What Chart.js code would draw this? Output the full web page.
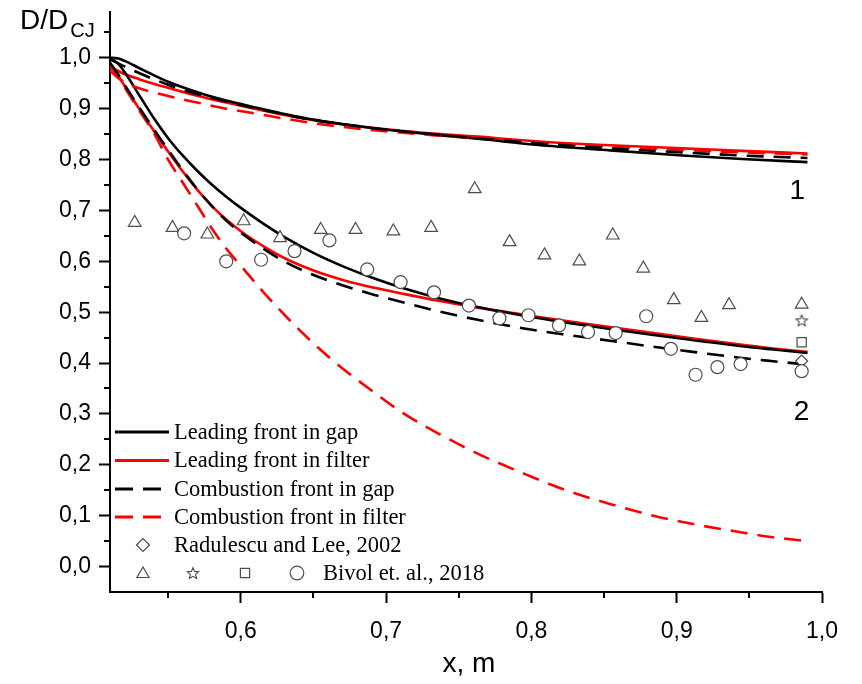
<!DOCTYPE html>
<html>
<head>
<meta charset="utf-8">
<script src="https://cdn.jsdelivr.net/npm/chart.js"></script>
<style>
  html, body { margin: 0; padding: 0; background: #fff; }
  canvas { display: block; }
</style>
</head>
<body>
<canvas id="chart" width="862" height="684"></canvas>
<script>
// group 1 curves (upper set)
const xUpper = [0.51, 0.515, 0.52, 0.53, 0.54, 0.55, 0.56, 0.575, 0.59, 0.611, 0.631, 0.651, 0.677, 0.702, 0.732, 0.763, 0.803, 0.854, 0.904, 0.945, 0.99];
const leadGap1 = [1.0, 0.999, 0.994, 0.98, 0.966, 0.953, 0.942, 0.928, 0.916, 0.902, 0.889, 0.878, 0.867, 0.858, 0.849, 0.841, 0.829, 0.818, 0.808, 0.801, 0.795];
const leadFilter1 = [0.982, 0.975, 0.968, 0.958, 0.949, 0.941, 0.933, 0.922, 0.912, 0.899, 0.887, 0.877, 0.867, 0.859, 0.851, 0.845, 0.836, 0.828, 0.822, 0.817, 0.812];
const combGap1 = [0.997, 0.99, 0.983, 0.97, 0.958, 0.947, 0.937, 0.925, 0.914, 0.9, 0.888, 0.877, 0.867, 0.858, 0.85, 0.842, 0.832, 0.822, 0.814, 0.808, 0.803];
const combFilter1 = [0.975, 0.962, 0.952, 0.94, 0.932, 0.925, 0.918, 0.909, 0.9, 0.89, 0.88, 0.871, 0.862, 0.855, 0.848, 0.842, 0.834, 0.826, 0.819, 0.814, 0.81];

// group 2 curves (lower set)
const xLower = [0.51, 0.515, 0.52, 0.53, 0.54, 0.55, 0.56, 0.57, 0.58, 0.59, 0.601, 0.616, 0.631, 0.651, 0.672, 0.692, 0.712, 0.737, 0.763, 0.793, 0.823, 0.854, 0.884, 0.914, 0.945, 0.965, 0.99];
const leadGap2 = [0.998, 0.99, 0.972, 0.927, 0.882, 0.842, 0.808, 0.778, 0.751, 0.727, 0.703, 0.673, 0.646, 0.615, 0.588, 0.566, 0.547, 0.527, 0.51, 0.494, 0.48, 0.467, 0.455, 0.444, 0.433, 0.427, 0.42];
const leadFilter2 = [0.99, 0.968, 0.945, 0.9, 0.857, 0.816, 0.777, 0.741, 0.709, 0.682, 0.657, 0.629, 0.605, 0.581, 0.562, 0.548, 0.536, 0.522, 0.509, 0.496, 0.483, 0.471, 0.459, 0.447, 0.436, 0.429, 0.422];
const combGap2 = [0.99, 0.97, 0.947, 0.903, 0.86, 0.819, 0.779, 0.742, 0.709, 0.68, 0.654, 0.624, 0.598, 0.572, 0.551, 0.534, 0.519, 0.501, 0.485, 0.469, 0.456, 0.444, 0.432, 0.421, 0.41, 0.404, 0.397];
const combFilter2 = [0.985, 0.965, 0.942, 0.897, 0.853, 0.8, 0.755, 0.71, 0.665, 0.625, 0.588, 0.538, 0.492, 0.436, 0.385, 0.342, 0.301, 0.26, 0.222, 0.185, 0.151, 0.123, 0.1, 0.082, 0.067, 0.058, 0.05];

// experiments
const triX = [0.527, 0.553, 0.577, 0.602, 0.627, 0.655, 0.679, 0.705, 0.731, 0.761, 0.785, 0.809, 0.833, 0.856, 0.877, 0.898, 0.917, 0.936, 0.986];
const triY = [0.676, 0.666, 0.653, 0.679, 0.646, 0.662, 0.662, 0.659, 0.666, 0.742, 0.638, 0.612, 0.6, 0.651, 0.586, 0.524, 0.489, 0.514, 0.515];
const circX = [0.561, 0.59, 0.614, 0.637, 0.661, 0.687, 0.71, 0.733, 0.757, 0.778, 0.798, 0.819, 0.839, 0.858, 0.879, 0.896, 0.913, 0.928, 0.944, 0.986];
const circY = [0.655, 0.6, 0.603, 0.62, 0.641, 0.584, 0.559, 0.539, 0.513, 0.488, 0.494, 0.474, 0.461, 0.459, 0.492, 0.428, 0.377, 0.392, 0.398, 0.384];
const starX = [0.986], starY = [0.484];
const squareX = [0.986], squareY = [0.441];
const radX = [0.986], radY = [0.404];

const xTicks = [0.6, 0.7, 0.8, 0.9, 1.0];
const yTicks = [0.0, 0.1, 0.2, 0.3, 0.4, 0.5, 0.6, 0.7, 0.8, 0.9, 1.0];
const xMinor = [0.55, 0.65, 0.75, 0.85, 0.95];
const yMinor = [0.05, 0.15, 0.25, 0.35, 0.45, 0.55, 0.65, 0.75, 0.85, 0.95, 1.05];

const legendLines = ['Leading front in gap', 'Leading front in filter', 'Combustion front in gap', 'Combustion front in filter'];
const radLabel = 'Radulescu and Lee, 2002';
const bivolLabel = 'Bivol et. al., 2018';

const SANS = '"Liberation Sans", Arial, sans-serif';
const SERIF = '"Liberation Serif", "Times New Roman", serif';
const MARK = '#4d4d4d';
const DASH = [17, 10];

const pts = (xs, ys) => xs.map((x, i) => ({ x: x, y: ys[i] }));
const fmt = v => v.toFixed(1).replace('.', ',');

function starSprite(r) {
  const c = document.createElement('canvas');
  const s = Math.ceil(r * 2 + 4);
  c.width = c.height = s;
  const g = c.getContext('2d');
  g.translate(s / 2, s / 2 + r * 0.1);
  g.beginPath();
  for (let i = 0; i < 10; i++) {
    const rr = i % 2 ? r * 0.45 : r;
    const a = -Math.PI / 2 + i * Math.PI / 5;
    g.lineTo(rr * Math.cos(a), rr * Math.sin(a));
  }
  g.closePath();
  g.fillStyle = '#fff';
  g.fill();
  g.strokeStyle = MARK;
  g.lineWidth = 1.1;
  g.stroke();
  return c;
}
const star = starSprite(6);

function curve(data, color, dashed, order) {
  return {
    data: data,
    showLine: true,
    pointRadius: 0,
    borderColor: color,
    borderWidth: 2.6,
    borderDash: dashed ? DASH : [],
    cubicInterpolationMode: 'monotone',
    fill: false,
    order: order
  };
}

function markers(data, style, radius) {
  return {
    data: data,
    showLine: false,
    pointStyle: style,
    pointRadius: radius,
    borderColor: MARK,
    backgroundColor: '#fff',
    borderWidth: 1.2,
    order: 0
  };
}

const overlay = {
  id: 'overlay',
  afterDraw(chart) {
    const { ctx, scales: { x, y }, chartArea: a } = chart;
    ctx.save();

    // minor ticks
    ctx.strokeStyle = '#000';
    ctx.lineWidth = 2;
    ctx.beginPath();
    xMinor.forEach(v => {
      const px = Math.round(x.getPixelForValue(v));
      ctx.moveTo(px, a.bottom);
      ctx.lineTo(px, a.bottom + 6);
    });
    yMinor.forEach(v => {
      const py = Math.round(y.getPixelForValue(v));
      ctx.moveTo(a.left, py);
      ctx.lineTo(a.left - 6, py);
    });
    ctx.stroke();

    // axis titles
    ctx.fillStyle = '#000';
    ctx.textBaseline = 'alphabetic';
    ctx.textAlign = 'left';
    ctx.font = '28px ' + SANS;
    ctx.fillText('D/D', 20, 29);
    const w = ctx.measureText('D/D').width;
    ctx.font = '20px ' + SANS;
    ctx.fillText('CJ', 20 + w + 2, 37);
    ctx.font = '28px ' + SANS;
    ctx.textAlign = 'center';
    ctx.fillText('x, m', (a.left + a.right) / 2 + 3, 672);

    // curve group numbers
    ctx.font = '28px ' + SANS;
    ctx.textBaseline = 'middle';
    ctx.fillText('1', x.getPixelForValue(0.983), y.getPixelForValue(0.738));
    ctx.fillText('2', x.getPixelForValue(0.986), y.getPixelForValue(0.303));

    // legend
    const rows = [432, 460.5, 489, 517, 545, 573];
    const styles = [['#000', false], ['#f00', false], ['#000', true], ['#f00', true]];
    ctx.lineWidth = 2.8;
    styles.forEach((s, i) => {
      ctx.strokeStyle = s[0];
      ctx.setLineDash(s[1] ? [18, 10] : []);
      ctx.beginPath();
      ctx.moveTo(115, rows[i]);
      ctx.lineTo(169, rows[i]);
      ctx.stroke();
    });
    ctx.setLineDash([]);
    ctx.font = '22.5px ' + SERIF;
    ctx.textAlign = 'left';
    ctx.textBaseline = 'middle';
    ctx.fillStyle = '#000';
    legendLines.forEach((t, i) => ctx.fillText(t, 174, rows[i] + 1));
    ctx.fillText(radLabel, 174, rows[4] + 1);
    ctx.fillText(bivolLabel, 323, rows[5] + 1);

    const sym = { borderWidth: 1.2, rotation: 0 };
    ctx.lineWidth = 1.2;
    ctx.strokeStyle = MARK;
    ctx.fillStyle = '#fff';
    Chart.helpers.drawPoint(ctx, Object.assign({ pointStyle: 'rectRot', radius: 6.5 }, sym), 143, rows[4]);
    Chart.helpers.drawPoint(ctx, Object.assign({ pointStyle: 'triangle', radius: 7 }, sym), 143, rows[5] + 1);
    Chart.helpers.drawPoint(ctx, Object.assign({ pointStyle: star, radius: 6 }, sym), 193, rows[5]);
    Chart.helpers.drawPoint(ctx, Object.assign({ pointStyle: 'rect', radius: 6.5 }, sym), 245, rows[5]);
    Chart.helpers.drawPoint(ctx, Object.assign({ pointStyle: 'circle', radius: 6.8 }, sym), 297, rows[5]);

    ctx.restore();
  }
};

new Chart(document.getElementById('chart'), {
  type: 'scatter',
  data: {
    datasets: [
      markers(pts(circX, circY), 'circle', 6.5),
      markers(pts(triX, triY), 'triangle', 7.3),
      markers(pts(starX, starY), star, 6),
      markers(pts(squareX, squareY), 'rect', 6.5),
      markers(pts(radX, radY), 'rectRot', 6),
      curve(pts(xUpper, combGap1), '#000', true, 1),
      curve(pts(xLower, combGap2), '#000', true, 1),
      curve(pts(xUpper, combFilter1), '#f00', true, 2),
      curve(pts(xLower, combFilter2), '#f00', true, 2),
      curve(pts(xUpper, leadGap1), '#000', false, 3),
      curve(pts(xLower, leadGap2), '#000', false, 3),
      curve(pts(xUpper, leadFilter1), '#f00', false, 4),
      curve(pts(xLower, leadFilter2), '#f00', false, 4)
    ]
  },
  options: {
    responsive: false,
    animation: false,
    layout: { padding: { top: 12, right: 40, left: 0, bottom: 0 } },
    plugins: { legend: { display: false }, tooltip: { enabled: false } },
    scales: {
      x: {
        type: 'linear',
        min: 0.51,
        max: 1.0,
        afterBuildTicks: s => { s.ticks = xTicks.map(v => ({ value: v })); },
        afterFit: s => { s.height = 92; s.paddingLeft = 0; s.paddingRight = 0; },
        grid: { drawOnChartArea: false, tickLength: 11, tickWidth: 2, tickColor: '#000' },
        border: { color: '#000', width: 2 },
        ticks: { color: '#000', padding: 15, maxRotation: 0, font: { family: SANS, size: 23 }, callback: fmt }
      },
      y: {
        type: 'linear',
        min: -0.05,
        max: 1.09,
        afterBuildTicks: s => { s.ticks = yTicks.map(v => ({ value: v })); },
        afterFit: s => { s.width = 110; s.paddingTop = 0; s.paddingBottom = 0; },
        grid: { drawOnChartArea: false, tickLength: 11, tickWidth: 2, tickColor: '#000' },
        border: { color: '#000', width: 2 },
        ticks: { color: '#000', padding: 8, font: { family: SANS, size: 23 }, callback: fmt }
      }
    }
  },
  plugins: [overlay]
});
</script>
</body>
</html>
